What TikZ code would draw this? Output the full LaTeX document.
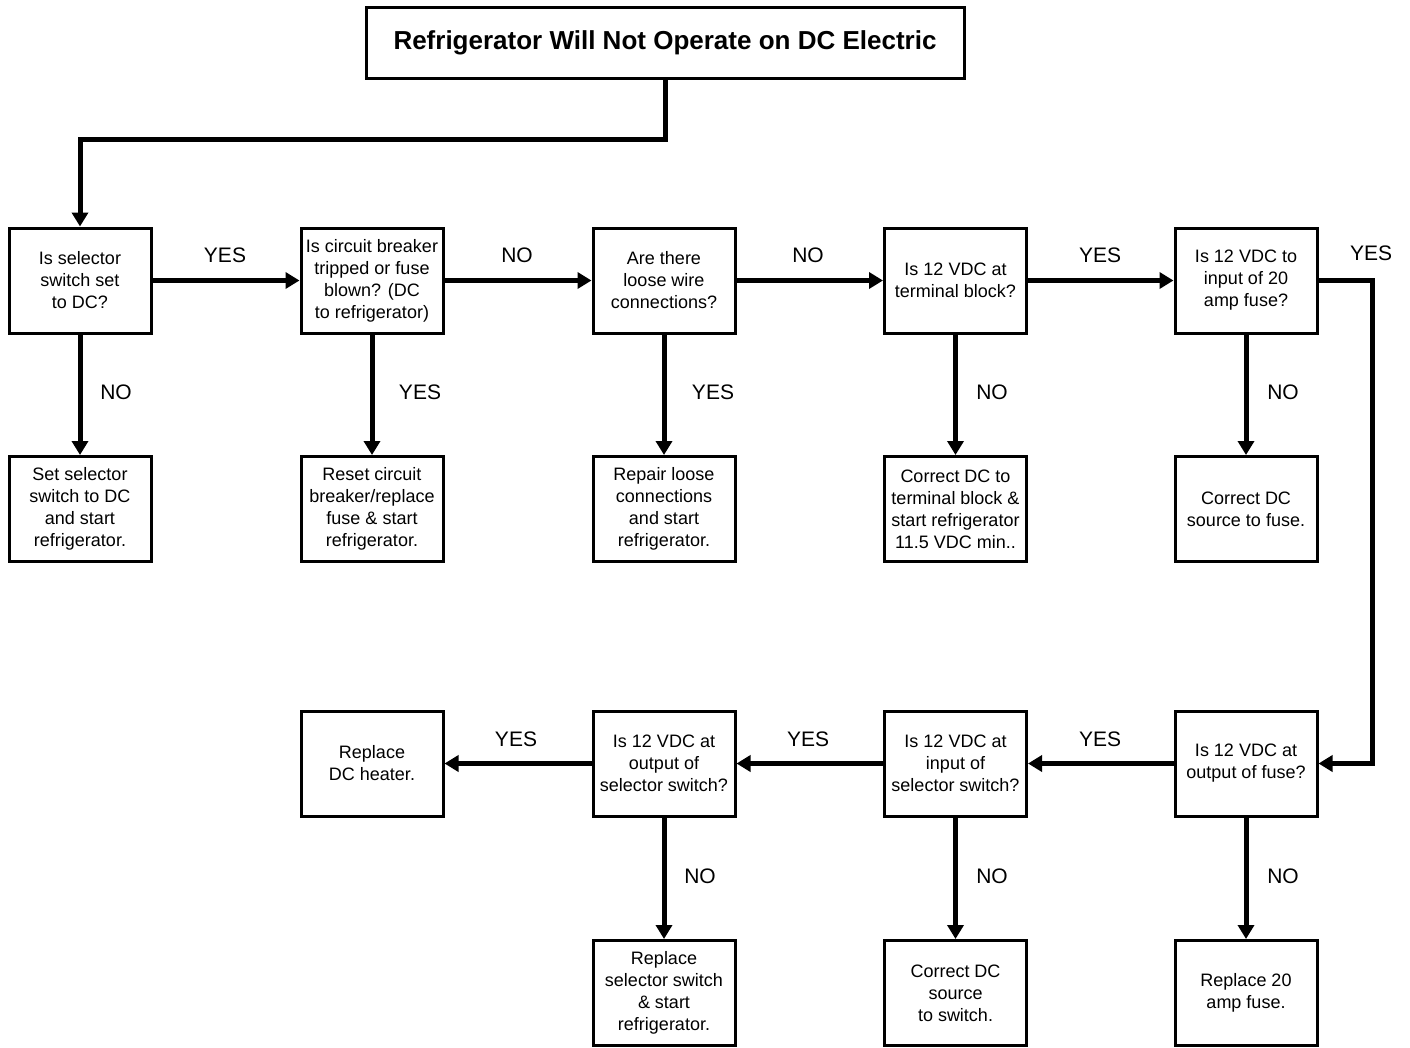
\documentclass[tikz,border=0pt]{standalone}
\usepackage{fontspec}
\setmainfont{Liberation Sans}
\usetikzlibrary{arrows.meta}
\begin{document}
\begin{tikzpicture}[x=1pt,y=-1pt,
  box/.style={draw,line width=3pt,minimum width=142pt,minimum height=105pt,inner sep=0pt,align=center,font=\fontsize{18}{22}\selectfont},
  titlebox/.style={draw,line width=3pt,minimum width=598pt,minimum height=71pt,inner sep=0pt,font=\fontsize{26}{30}\selectfont\bfseries},
  conn/.style={line width=5pt,-{Triangle[length=14pt,width=16pt]}},
  lbl/.style={font=\fontsize{21}{24}\selectfont,inner sep=0pt}]
\useasboundingbox (0,0) rectangle (1410,1047);
% title
\node[titlebox] (T) at (665,42.5) {Refrigerator Will Not Operate on DC Electric};
% row 1
\node[box] (A) at (80,280.5) {Is selector\\switch set\\to DC?};
\node[box] (B) at (372,280.5) {Is circuit breaker\\tripped or fuse\\blown? (DC\\to refrigerator)};
\node[box] (C) at (664,280.5) {Are there\\loose wire\\connections?};
\node[box] (D) at (955.5,280.5) {Is 12 VDC at\\terminal block?};
\node[box] (E) at (1246,280.5) {Is 12 VDC to\\input of 20\\amp fuse?};
% row 2
\node[box] (A2) at (80,509) {Set selector\\switch to DC\\and start\\refrigerator.};
\node[box] (B2) at (372,509) {Reset circuit\\breaker/replace\\fuse \& start\\refrigerator.};
\node[box] (C2) at (664,509) {Repair loose\\connections\\and start\\refrigerator.};
\node[box] (D2) at (955.5,509) {Correct DC to\\terminal block \&\\start refrigerator\\11.5 VDC min..};
\node[box] (E2) at (1246,509) {Correct DC\\source to fuse.};
% row 3
\node[box] (H) at (372,763.5) {Replace\\DC heater.};
\node[box] (I) at (664,763.5) {Is 12 VDC at\\output of\\selector switch?};
\node[box] (J) at (955.5,763.5) {Is 12 VDC at\\input of\\selector switch?};
\node[box] (K) at (1246,763.5) {Is 12 VDC at\\output of fuse?};
% row 4
\node[box] (I2) at (664,993) {Replace\\selector switch\\\& start\\refrigerator.};
\node[box] (J2) at (955.5,993) {Correct DC\\source\\to switch.};
\node[box] (K2) at (1246,993) {Replace 20\\amp fuse.};
% connectors
\coordinate (tb) at (80,139);
\coordinate (rr) at (1372,280.5);
\draw[conn] (T.south) |- (tb) -- (A.north);
\draw[conn] (A) -- (B);
\draw[conn] (B) -- (C);
\draw[conn] (C) -- (D);
\draw[conn] (D) -- (E);
\draw[conn] (E.east) -- (rr) |- (K.east);
\draw[conn] (A) -- (A2);
\draw[conn] (B) -- (B2);
\draw[conn] (C) -- (C2);
\draw[conn] (D) -- (D2);
\draw[conn] (E) -- (E2);
\draw[conn] (K) -- (J);
\draw[conn] (J) -- (I);
\draw[conn] (I) -- (H);
\draw[conn] (I) -- (I2);
\draw[conn] (J) -- (J2);
\draw[conn] (K) -- (K2);
% labels
\node[lbl] (l1) at (225,255) {YES};
\node[lbl] (l2) at (517,255) {NO};
\node[lbl] (l3) at (808,255) {NO};
\node[lbl] (l4) at (1100,255) {YES};
\node[lbl] (l5) at (1371,253) {YES};
\node[lbl] (l6) at (116,392) {NO};
\node[lbl] (l7) at (420,392) {YES};
\node[lbl] (l8) at (713,392) {YES};
\node[lbl] (l9) at (992,392) {NO};
\node[lbl] (l10) at (1283,392) {NO};
\node[lbl] (l11) at (516,739) {YES};
\node[lbl] (l12) at (808,739) {YES};
\node[lbl] (l13) at (1100,739) {YES};
\node[lbl] (l14) at (700,876) {NO};
\node[lbl] (l15) at (992,876) {NO};
\node[lbl] (l16) at (1283,876) {NO};
\end{tikzpicture}
\end{document}
